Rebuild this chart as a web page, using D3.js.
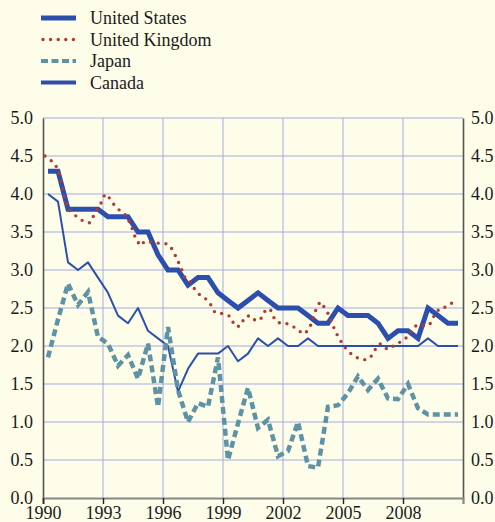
<!DOCTYPE html>
<html>
<head>
<meta charset="utf-8">
<script src="https://cdn.jsdelivr.net/npm/d3@7"></script>
<style>
  html, body { margin: 0; padding: 0; background: #fefde9; }
  svg { display: block; }
  svg text { font-family: "Liberation Serif", "DejaVu Serif", serif !important; fill: #1a1a1a; }
</style>
</head>
<body>
<svg id="chart" width="495" height="522"></svg>
<script>
// Half-year observations, first half of 1990 through second half of 2010
const halfYearPeriods = d3.range(42).map(i => 1990.25 + 0.5 * i);

const unitedStates = [
  4.3, 4.3, 3.8, 3.8, 3.8, 3.8, 3.7, 3.7, 3.7, 3.5,
  3.5, 3.2, 3.0, 3.0, 2.8, 2.9, 2.9, 2.7, 2.6, 2.5,
  2.6, 2.7, 2.6, 2.5, 2.5, 2.5, 2.4, 2.3, 2.3, 2.5,
  2.4, 2.4, 2.4, 2.3, 2.1, 2.2, 2.2, 2.1, 2.5, 2.4,
  2.3, 2.3
];

const japan = [
  1.85, 2.35, 2.82, 2.54, 2.71, 2.12, 2.03, 1.74, 1.88, 1.57,
  2.03, 1.2, 2.25, 1.42, 1.0, 1.25, 1.2, 1.85, 0.5, 0.98,
  1.45, 0.92, 1.03, 0.55, 0.62, 1.0, 0.42, 0.4, 1.2, 1.22,
  1.38, 1.6, 1.42, 1.57, 1.31, 1.3, 1.5, 1.18, 1.1, 1.1,
  1.1, 1.1
];

const canada = [
  4.0, 3.9, 3.1, 3.0, 3.1, 2.9, 2.7, 2.4, 2.3, 2.5,
  2.2, 2.1, 2.0, 1.4, 1.7, 1.9, 1.9, 1.9, 2.0, 1.8,
  1.9, 2.1, 2.0, 2.1, 2.0, 2.0, 2.1, 2.0, 2.0, 2.0,
  2.0, 2.0, 2.0, 2.0, 2.0, 2.0, 2.0, 2.0, 2.1, 2.0,
  2.0, 2.0
];

// Quarterly observations for the United Kingdom
const quarterPeriods = d3.range(83).map(k => 1990.1 + 0.25 * k);

const unitedKingdom = [
  4.5, 4.45, 4.4, 4.25, 3.9, 3.78, 3.72, 3.67, 3.63, 3.62,
  3.75, 3.85, 4.0, 3.94, 3.84, 3.78, 3.73, 3.62, 3.44, 3.32,
  3.38, 3.37, 3.36, 3.35, 3.35, 3.32, 3.2, 3.06, 2.9, 2.86,
  2.74, 2.67, 2.63, 2.56, 2.44, 2.43, 2.42, 2.39, 2.26, 2.26,
  2.38, 2.4, 2.34, 2.34, 2.46, 2.49, 2.34, 2.3, 2.3, 2.28,
  2.24, 2.19, 2.16, 2.25, 2.45, 2.58, 2.5, 2.38, 2.2, 2.08,
  1.98, 1.91, 1.86, 1.83, 1.82, 1.84, 1.95, 2.03, 1.97, 1.96,
  2.02, 2.05, 2.09, 2.17, 2.26, 2.28, 2.26, 2.29, 2.42, 2.5,
  2.51, 2.55, 2.59
];

const yearTicks = [1990, 1993, 1996, 1999, 2002, 2005, 2008];
const valueTicks = [0, 0.5, 1.0, 1.5, 2.0, 2.5, 3.0, 3.5, 4.0, 4.5, 5.0];

const legendLabels = ["United States", "United Kingdom", "Japan", "Canada"];

const FONT = "'Liberation Serif', 'DejaVu Serif', serif";

const svg = d3.select("#chart");

const x = d3.scaleLinear().domain([1990, 2011]).range([43, 463]);
const y = d3.scaleLinear().domain([0, 5]).range([498, 118]);

const blue = "#2c4fae";
const red = "#b33a2f";
const teal = "#5e93a6";
const gridColor = "#a3aae3";

// Grid
const grid = svg.append("g");
grid.selectAll("line.h").data(valueTicks.filter(v => v > 0)).join("line")
  .attr("x1", x(1990)).attr("x2", x(2011))
  .attr("y1", d => y(d)).attr("y2", d => y(d))
  .attr("stroke", gridColor).attr("stroke-width", 1);
grid.selectAll("line.v").data(yearTicks.filter(t => t > 1990)).join("line")
  .attr("x1", d => x(d)).attr("x2", d => x(d))
  .attr("y1", y(0)).attr("y2", y(5))
  .attr("stroke", gridColor).attr("stroke-width", 1);

// Axes
const leftAxis = d3.axisLeft(y).tickValues(valueTicks).tickSize(0).tickPadding(10)
  .tickFormat(d3.format(".1f"));
const rightAxis = d3.axisRight(y).tickValues(valueTicks).tickSize(0).tickPadding(8)
  .tickFormat(d3.format(".1f"));
const bottomAxis = d3.axisBottom(x).tickValues(yearTicks).tickSize(6).tickPadding(2)
  .tickFormat(d3.format("d"));

function styleAxis(g) {
  g.attr("font-family", FONT).attr("font-size", 18);
  g.select(".domain").attr("stroke", "#555").attr("stroke-width", 1.6);
  g.selectAll(".tick text")
    .style("font-family", FONT)
    .attr("font-size", 18).attr("fill", "#1a1a1a");
  g.selectAll(".tick line").attr("stroke", "#222").attr("stroke-width", 1.4);
}

svg.append("g").attr("transform", `translate(${x(1990)},0)`).call(leftAxis).call(styleAxis);
svg.append("g").attr("transform", `translate(${x(2011)},0)`).call(rightAxis).call(styleAxis);
svg.append("g").attr("transform", `translate(0,${y(0)})`).call(bottomAxis).call(styleAxis)
  .select(".domain").attr("stroke", "#888").attr("stroke-width", 2.2);

// Series lines
const line = (xs) => d3.line().x((d, i) => x(xs[i])).y(d => y(d));

svg.append("path").datum(canada)
  .attr("d", line(halfYearPeriods))
  .attr("fill", "none").attr("stroke", blue).attr("stroke-width", 2)
  .attr("stroke-linejoin", "round");

svg.append("path").datum(japan)
  .attr("d", line(halfYearPeriods))
  .attr("fill", "none").attr("stroke", teal).attr("stroke-width", 4.5)
  .attr("stroke-dasharray", "7,4");

svg.append("path").datum(unitedStates)
  .attr("d", line(halfYearPeriods))
  .attr("fill", "none").attr("stroke", blue).attr("stroke-width", 5)
  .attr("stroke-linejoin", "miter");

svg.append("path").datum(unitedKingdom)
  .attr("d", line(quarterPeriods))
  .attr("fill", "none").attr("stroke", red).attr("stroke-width", 3.4)
  .attr("stroke-linecap", "round").attr("stroke-dasharray", "0,7.8");

// Legend
const legendStyles = [
  { stroke: blue, width: 5, dash: null, cap: "butt" },
  { stroke: red, width: 3.4, dash: "0,7.6", cap: "round" },
  { stroke: teal, width: 4, dash: "7,3.5", cap: "butt" },
  { stroke: blue, width: 4, dash: null, cap: "butt" }
];
const legend = svg.append("g");
const rows = legend.selectAll("g").data(legendLabels).join("g")
  .attr("transform", (d, i) => `translate(0,${18 + i * 21.5})`);
rows.append("line")
  .attr("x1", (d, i) => legendStyles[i].cap === "round" ? 43 : 41).attr("x2", 76)
  .attr("y1", 0).attr("y2", 0)
  .attr("stroke", (d, i) => legendStyles[i].stroke)
  .attr("stroke-width", (d, i) => legendStyles[i].width)
  .attr("stroke-linecap", (d, i) => legendStyles[i].cap)
  .attr("stroke-dasharray", (d, i) => legendStyles[i].dash);
rows.append("text")
  .attr("x", 90).attr("y", 0).attr("dy", "0.35em")
  .style("font-family", FONT)
  .attr("font-size", 18)
  .text(d => d);
</script>
</body>
</html>
